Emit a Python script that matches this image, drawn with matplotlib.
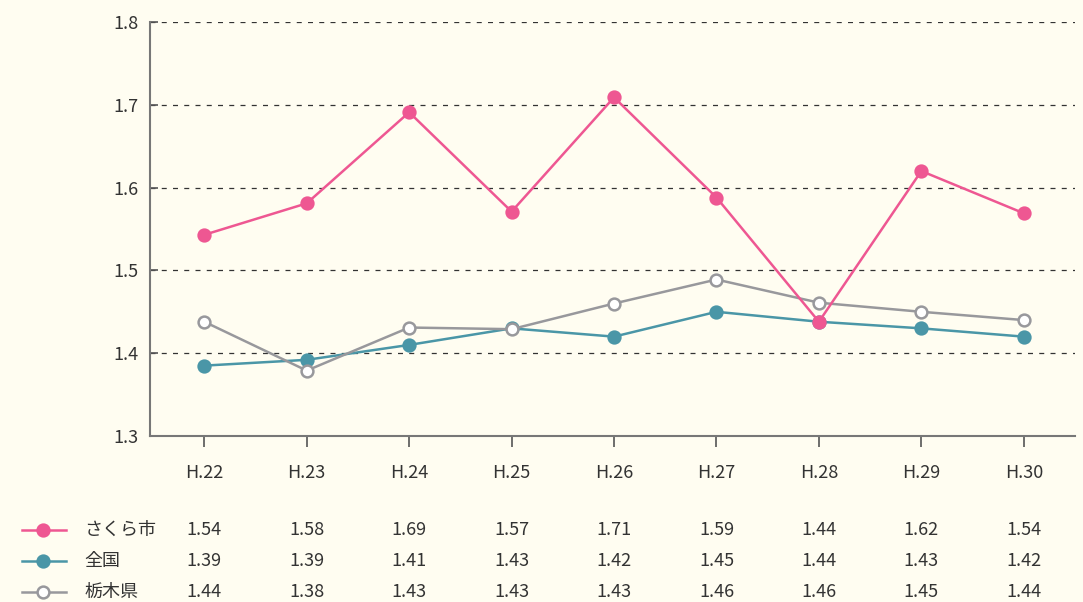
import matplotlib
matplotlib.use("Agg")
import matplotlib.pyplot as plt
from matplotlib import transforms
from matplotlib.lines import Line2D

plt.rcParams['font.family'] = ['Liberation Sans Narrow', 'Noto Sans CJK JP', 'DejaVu Sans']

years = ["H.22", "H.23", "H.24", "H.25", "H.26", "H.27", "H.28", "H.29", "H.30"]
series_names = ["さくら市", "全国", "栃木県"]
sakura = [1.543, 1.581, 1.691, 1.571, 1.709, 1.588, 1.438, 1.620, 1.569]
zenkoku = [1.385, 1.392, 1.410, 1.430, 1.420, 1.450, 1.438, 1.430, 1.420]
tochigi = [1.438, 1.379, 1.431, 1.429, 1.460, 1.489, 1.461, 1.450, 1.440]
table_sakura = ["1.54", "1.58", "1.69", "1.57", "1.71", "1.59", "1.44", "1.62", "1.54"]
table_zenkoku = ["1.39", "1.39", "1.41", "1.43", "1.42", "1.45", "1.44", "1.43", "1.42"]
table_tochigi = ["1.44", "1.38", "1.43", "1.43", "1.43", "1.46", "1.46", "1.45", "1.44"]
yticks = [1.3, 1.4, 1.5, 1.6, 1.7, 1.8]

bg = "#fffdf1"
c_pink = "#ee5792"
c_teal = "#4a96a7"
c_gray = "#98989c"
txt = "#333333"

fig = plt.figure(figsize=(10.83, 6.02), dpi=100, facecolor=bg)
ax = fig.add_axes([150/1083, 1-436/602, (1075-150)/1083, (436-22)/602])
ax.set_facecolor(bg)

x = list(range(len(years)))
styles = [
    (zenkoku, c_teal, c_teal, 3),
    (tochigi, c_gray, "white", 4),
    (sakura, c_pink, c_pink, 5),
]
for vals, col, face, z in styles:
    ax.plot(x, vals, color=col, lw=1.8, marker="o", ms=8.5,
            markerfacecolor=face, markeredgecolor=col, markeredgewidth=1.8, zorder=z)

ax.set_xlim(-0.53, 8.5)
ax.set_ylim(1.3, 1.8)
ax.set_yticks(yticks)
ax.set_yticklabels([f"{v:.1f}" for v in yticks], fontsize=13, color=txt)
ax.set_xticks(x)
ax.set_xticklabels(years, fontsize=13, color=txt)
for v in yticks[1:]:
    ax.axhline(v, color="#333333", lw=0.9, ls=(0, (4, 5)), zorder=1)
for s in ["top", "right"]:
    ax.spines[s].set_visible(False)
for s in ["left", "bottom"]:
    ax.spines[s].set_color("#777777")
    ax.spines[s].set_linewidth(1.5)
ax.tick_params(axis="x", direction="out", length=8, width=1.2, color="#555555", pad=12)
ax.tick_params(axis="y", direction="in", length=6, width=1.2, color="#555555", pad=8)

trans = transforms.blended_transform_factory(ax.transData, fig.transFigure)
rows = [
    (table_sakura, c_pink, c_pink, 530),
    (table_zenkoku, c_teal, c_teal, 561),
    (table_tochigi, c_gray, "white", 592),
]
for (vals, col, face, ypx), name in zip(rows, series_names):
    yf = 1 - ypx/602
    fig.add_artist(Line2D([22/1083, 66/1083], [yf, yf], color=col, lw=1.8,
                          transform=fig.transFigure))
    fig.add_artist(Line2D([43/1083], [yf], color=col, marker="o", ms=8.5,
                          markerfacecolor=face, markeredgecolor=col,
                          markeredgewidth=1.8, transform=fig.transFigure))
    fig.text(84/1083, yf, name, fontsize=13, color=txt, va="center", ha="left")
    for i, t in enumerate(vals):
        fig.text(i, yf, t, transform=trans, fontsize=13, color=txt,
                 va="center", ha="center")

fig.savefig("out.png", dpi=100, facecolor=bg)
